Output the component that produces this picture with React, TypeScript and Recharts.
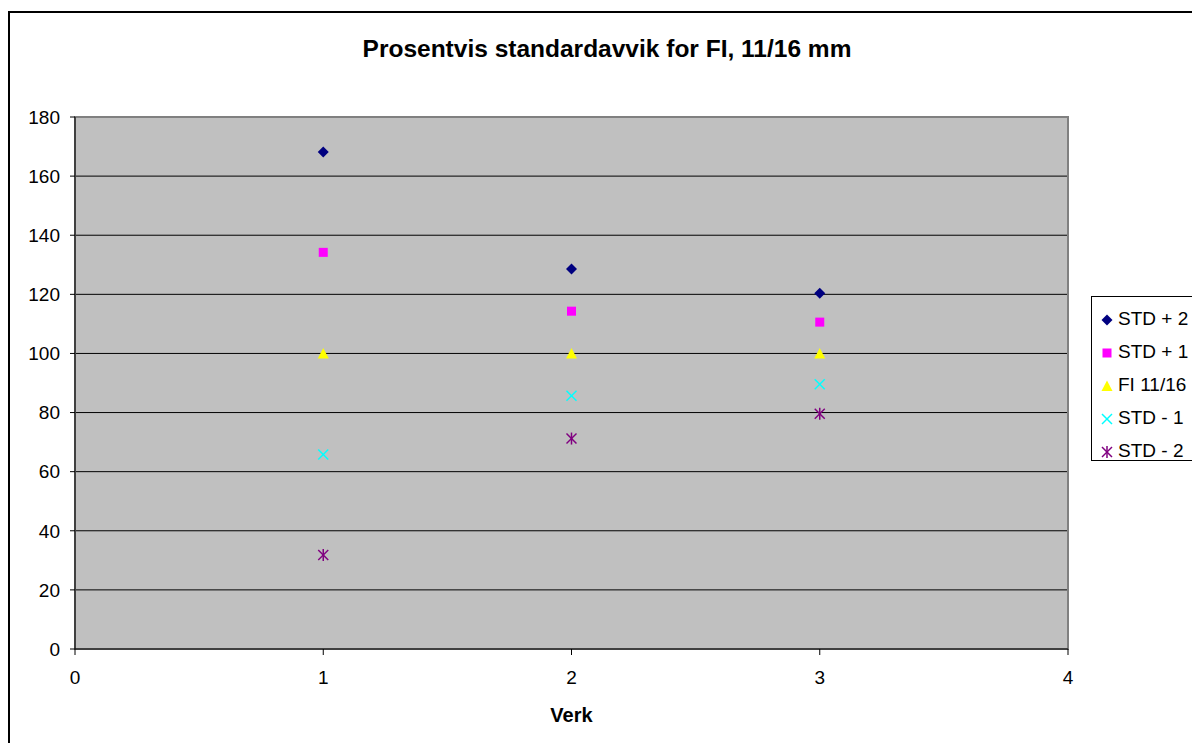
import * as React from "react";
import {
  CartesianGrid,
  ReferenceArea,
  Scatter,
  ScatterChart,
  XAxis,
  YAxis,
} from "recharts";

const verk = [1, 2, 3];
const stdPlus2 = [168.2, 128.6, 120.4];
const stdPlus1 = [134.2, 114.3, 110.6];
const fi1116 = [100, 100, 100];
const stdMinus1 = [65.8, 85.7, 89.6];
const stdMinus2 = [31.8, 71.2, 79.6];
const xTicks = [0, 1, 2, 3, 4];
const yTicks = [0, 20, 40, 60, 80, 100, 120, 140, 160, 180];

const toPoints = (values: number[]) => verk.map((x, i) => ({ x, y: values[i] }));

const FONT = '"Liberation Sans", Arial, sans-serif';

type ShapeProps = { cx?: number; cy?: number };

const Diamond = ({ cx = 0, cy = 0 }: ShapeProps) => (
  <polygon
    points={`${cx},${cy - 5.5} ${cx + 5.5},${cy} ${cx},${cy + 5.5} ${cx - 5.5},${cy}`}
    fill="#000080"
  />
);
const Square = ({ cx = 0, cy = 0 }: ShapeProps) => (
  <rect x={cx - 4.5} y={cy - 4.5} width={9} height={9} fill="#ff00ff" />
);
const Triangle = ({ cx = 0, cy = 0 }: ShapeProps) => (
  <polygon
    points={`${cx},${cy - 5.5} ${cx + 5.5},${cy + 5} ${cx - 5.5},${cy + 5}`}
    fill="#ffff00"
  />
);
const Cross = ({ cx = 0, cy = 0 }: ShapeProps) => (
  <g stroke="#00ffff" strokeWidth={1.5}>
    <line x1={cx - 5} y1={cy - 5} x2={cx + 5} y2={cy + 5} />
    <line x1={cx - 5} y1={cy + 5} x2={cx + 5} y2={cy - 5} />
  </g>
);
const Star = ({ cx = 0, cy = 0 }: ShapeProps) => (
  <g stroke="#800080" strokeWidth={1.5}>
    <line x1={cx - 5} y1={cy - 5} x2={cx + 5} y2={cy + 5} />
    <line x1={cx - 5} y1={cy + 5} x2={cx + 5} y2={cy - 5} />
    <line x1={cx} y1={cy - 6} x2={cx} y2={cy + 6} />
  </g>
);

const series = [
  { name: "STD + 2", values: stdPlus2, Shape: Diamond },
  { name: "STD + 1", values: stdPlus1, Shape: Square },
  { name: "FI 11/16", values: fi1116, Shape: Triangle },
  { name: "STD - 1", values: stdMinus1, Shape: Cross },
  { name: "STD - 2", values: stdMinus2, Shape: Star },
];

const LegendBox = () => (
  <div
    style={{
      position: "absolute",
      left: 1091,
      top: 296,
      width: 140,
      height: 165,
      boxSizing: "border-box",
      border: "1px solid #000",
      background: "#fff",
      paddingTop: 6,
      fontFamily: FONT,
      fontSize: 19,
    }}
  >
    {series.map(({ name, Shape }) => (
      <div key={name} style={{ height: 32.8, display: "flex", alignItems: "center" }}>
        <svg width={26} height={20} style={{ flex: "none" }}>
          <Shape cx={15} cy={11} />
        </svg>
        <span style={{ color: "#000", whiteSpace: "nowrap" }}>{name}</span>
      </div>
    ))}
  </div>
);

export default function App() {
  return (
    <div
      style={{
        position: "absolute",
        left: 0,
        top: 0,
        width: 1192,
        height: 743,
        overflow: "hidden",
        background: "#fff",
      }}
    >
      <div
        style={{
          position: "absolute",
          left: 8,
          top: 11,
          width: 1300,
          height: 900,
          border: "2px solid #000",
        }}
      />
      <div
        style={{
          position: "absolute",
          left: 0,
          width: 1214,
          top: 35,
          textAlign: "center",
          fontFamily: FONT,
          fontWeight: "bold",
          fontSize: 24.5,
          color: "#000",
          whiteSpace: "nowrap",
        }}
      >
        Prosentvis standardavvik for FI, 11/16 mm
      </div>
      <div style={{ position: "absolute", left: 0, top: 0 }}>
        <ScatterChart
          width={1192}
          height={743}
          margin={{ top: 117, right: 124, bottom: 14, left: 15 }}
          style={{ fontFamily: FONT }}
        >
          <CartesianGrid
            vertical={false}
            fill="#c0c0c0"
            fillOpacity={1}
            stroke="#000"
            horizontalValues={yTicks}
          />
          <ReferenceArea
            x1={0}
            x2={4}
            y1={0}
            y2={180}
            fill="none"
            stroke="#808080"
            strokeWidth={2}
            ifOverflow="visible"
          />
          <XAxis
            type="number"
            dataKey="x"
            domain={[0, 4]}
            ticks={xTicks}
            height={80}
            stroke="#000"
            tickSize={6}
            tickMargin={16}
            tick={{ fill: "#000", fontSize: 19 }}
            label={{
              value: "Verk",
              position: "insideBottom",
              offset: 7,
              style: { fontWeight: "bold", fontSize: 20, fill: "#000" },
            }}
          />
          <YAxis
            type="number"
            dataKey="y"
            domain={[0, 180]}
            ticks={yTicks}
            width={60}
            stroke="#000"
            tickSize={5}
            tickMargin={10}
            tick={{ fill: "#000", fontSize: 19 }}
          />
          {series.map(({ name, values, Shape }) => (
            <Scatter
              key={name}
              name={name}
              data={toPoints(values)}
              shape={(p: ShapeProps) => <Shape cx={p.cx} cy={p.cy} />}
              isAnimationActive={false}
            />
          ))}
        </ScatterChart>
      </div>
      <LegendBox />
    </div>
  );
}
